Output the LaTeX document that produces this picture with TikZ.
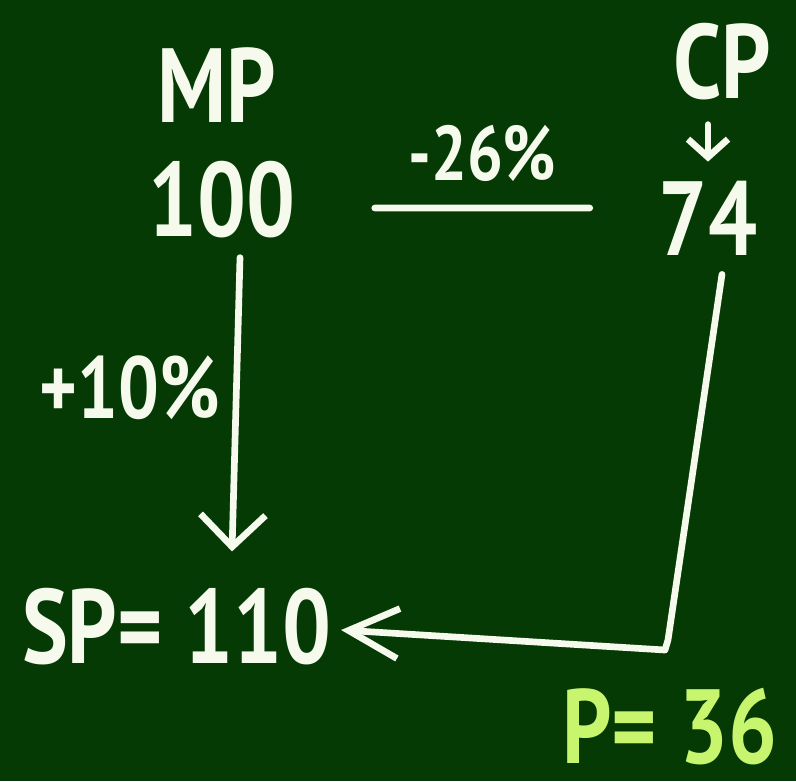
\documentclass[tikz,border=0pt]{standalone}
\usepackage{fontspec}
\setmainfont{PT Sans}[FakeStretch=0.82]
\usetikzlibrary{arrows.meta}
\definecolor{board}{RGB}{5,58,5}
\definecolor{chalk}{RGB}{246,250,236}
\definecolor{lime}{RGB}{200,245,110}

\begin{document}
\begin{tikzpicture}[t/.style={text=chalk,font=\fontsize{30}{30}\selectfont\bfseries,inner sep=1pt},
  s/.style={text=chalk,font=\fontsize{22}{22}\selectfont\bfseries,inner sep=1pt},
  l/.style={draw=chalk,line width=1.9pt,line cap=round,line join=round},
  >={Straight Barb[length=3.2mm,width=6.5mm]}]
\fill[board] (0,0) rectangle (7.96,-7.81);
\useasboundingbox (0,0) rectangle (7.96,-7.81);
\clip (0,0) rectangle (7.96,-7.81);
\node[t] (mp) at (2.17,-0.85) {MP};
\node[t] (cp) at (7.22,-0.62) {CP};
\node[t] (n100) at (2.22,-2.00) {100};
\node[t] (n74) at (7.08,-2.18) {74};
\node[s,font=\fontsize{25}{25}\selectfont\bfseries] (p10) at (1.30,-3.88) {+10\%};
\node[t] (sp) at (1.77,-6.27) {SP= 110};
\node[t,text=lime,anchor=west] (p36) at (5.58,-7.27) {P= 36};
\draw[l] ([xshift=7.5mm,yshift=-0.8mm]n100.east) -- node[s,above=2mm]{-26\%} ([xshift=-6.5mm,yshift=1mm]n74.west);
\draw[l,-{Straight Barb[length=1.8mm,width=4mm]}] ([yshift=-2mm]cp.south -| n74.north) -- ([yshift=1.5mm]n74.north);
\draw[l,->] ([xshift=1.8mm,yshift=-1.5mm]n100.south) -- ([xshift=5.5mm,yshift=3.3mm]sp.north);
\draw[l,-{Straight Barb[length=5mm,width=5mm]}] ([xshift=1.4mm,yshift=-1.5mm]n74.south) -- (6.68,-6.40) -- (6.65,-6.50) -- ([xshift=0.5mm,yshift=-0.3mm]sp.east);
\end{tikzpicture}
\end{document}
